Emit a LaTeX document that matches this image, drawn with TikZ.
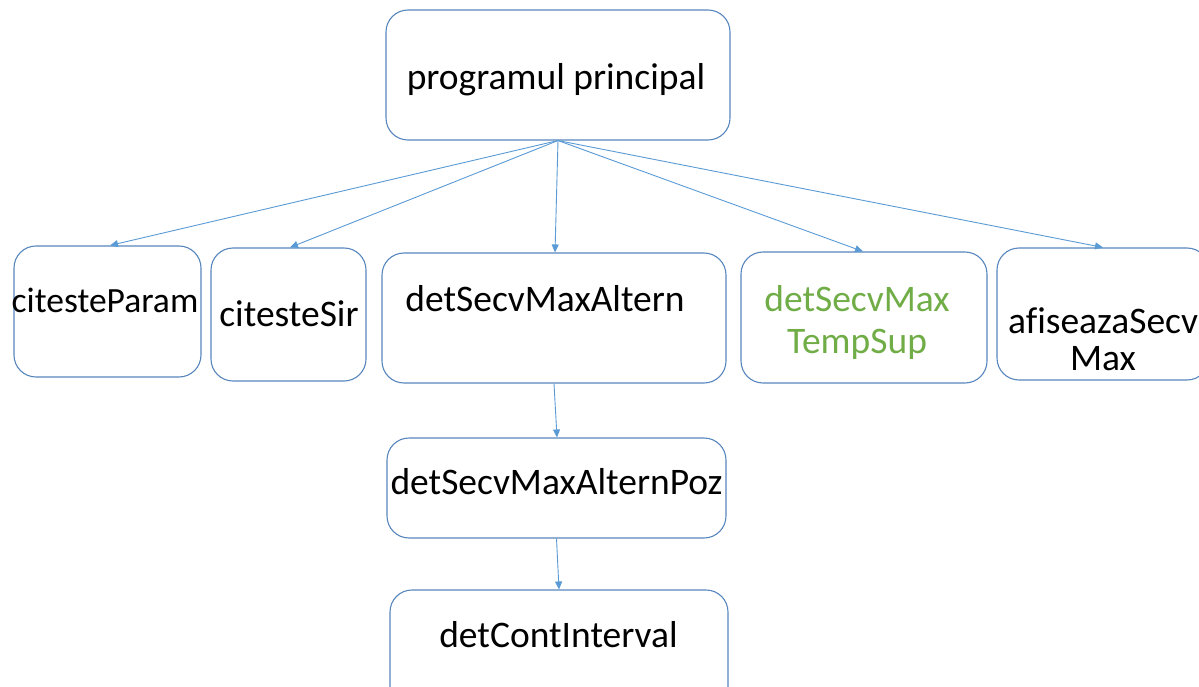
\documentclass[tikz,border=0pt]{standalone}
\usepackage{fontspec}
\setmainfont{Carlito}[Ligatures=NoCommon]
\usetikzlibrary{arrows.meta}
\definecolor{boxline}{RGB}{88,134,190}
\definecolor{arrowline}{RGB}{91,155,213}
\definecolor{greentext}{RGB}{112,173,71}
\tikzset{
  modbox/.style={draw=boxline, line width=1.1pt, rounded corners=22pt, inner sep=0pt},
  lbl/.style={anchor=base, inner sep=0pt, font=\fontsize{37.5}{42}\selectfont},
  call/.style={draw=arrowline, line width=0.9pt, -{Triangle[length=8pt,width=7pt]}}
}
\begin{document}
\begin{tikzpicture}[x=1pt,y=-1pt]
\clip (0,0) rectangle (1199,687);
\fill[white] (0,0) rectangle (1199,687);

% module boxes (x from left, y from top)
\node[modbox, minimum width=344pt, minimum height=130pt] (main) at (558,75) {};
\node[modbox, minimum width=187pt, minimum height=131pt] (param) at (107.5,311.5) {};
\node[modbox, minimum width=155pt, minimum height=133pt] (sir) at (288.5,314.5) {};
\node[modbox, minimum width=344pt, minimum height=130pt] (altern) at (554,318) {};
\node[modbox, minimum width=246pt, minimum height=131pt] (temp) at (864,317.5) {};
\node[modbox, minimum width=212pt, minimum height=132pt] (afis) at (1103,314) {};
\node[modbox, minimum width=339pt, minimum height=100pt] (poz) at (556.5,488) {};
\node[modbox, minimum width=338pt, minimum height=130pt] (cont) at (559,655) {};

% labels
\node[lbl] (tmain) at (556,90) {programul principal};
\node[lbl, font=\fontsize{35.5}{40}\selectfont] (tparam) at (105,312) {citesteParam};
\node[lbl] (tsir) at (289,326) {citesteSir};
\node[lbl] (taltern) at (545,311) {detSecvMaxAltern};
\node[lbl, text=greentext] (ttemp1) at (857,311) {detSecvMax};
\node[lbl, text=greentext] (ttemp2) at (857,353) {TempSup};
\node[lbl] (tafis1) at (1103,333) {afiseazaSecv};
\node[lbl] (tafis2) at (1103,370) {Max};
\node[lbl] (tpoz) at (556.5,494) {detSecvMaxAlternPoz};
\node[lbl] (tcont) at (558.5,647) {detContInterval};

% calls
\draw[call] (main.south) -- ([xshift=2.5pt]param.north);
\draw[call] (main.south) -- ([xshift=1.5pt]sir.north);
\draw[call] (main.south) -- ([xshift=1pt]altern.north);
\draw[call] (main.south) -- ([xshift=-1pt]temp.north);
\draw[call] (main.south) -- (afis.north);
\draw[call] (altern.south) -- ([xshift=0.5pt]poz.north);
\draw[call] (poz.south) -- (cont.north);
\end{tikzpicture}
\end{document}
